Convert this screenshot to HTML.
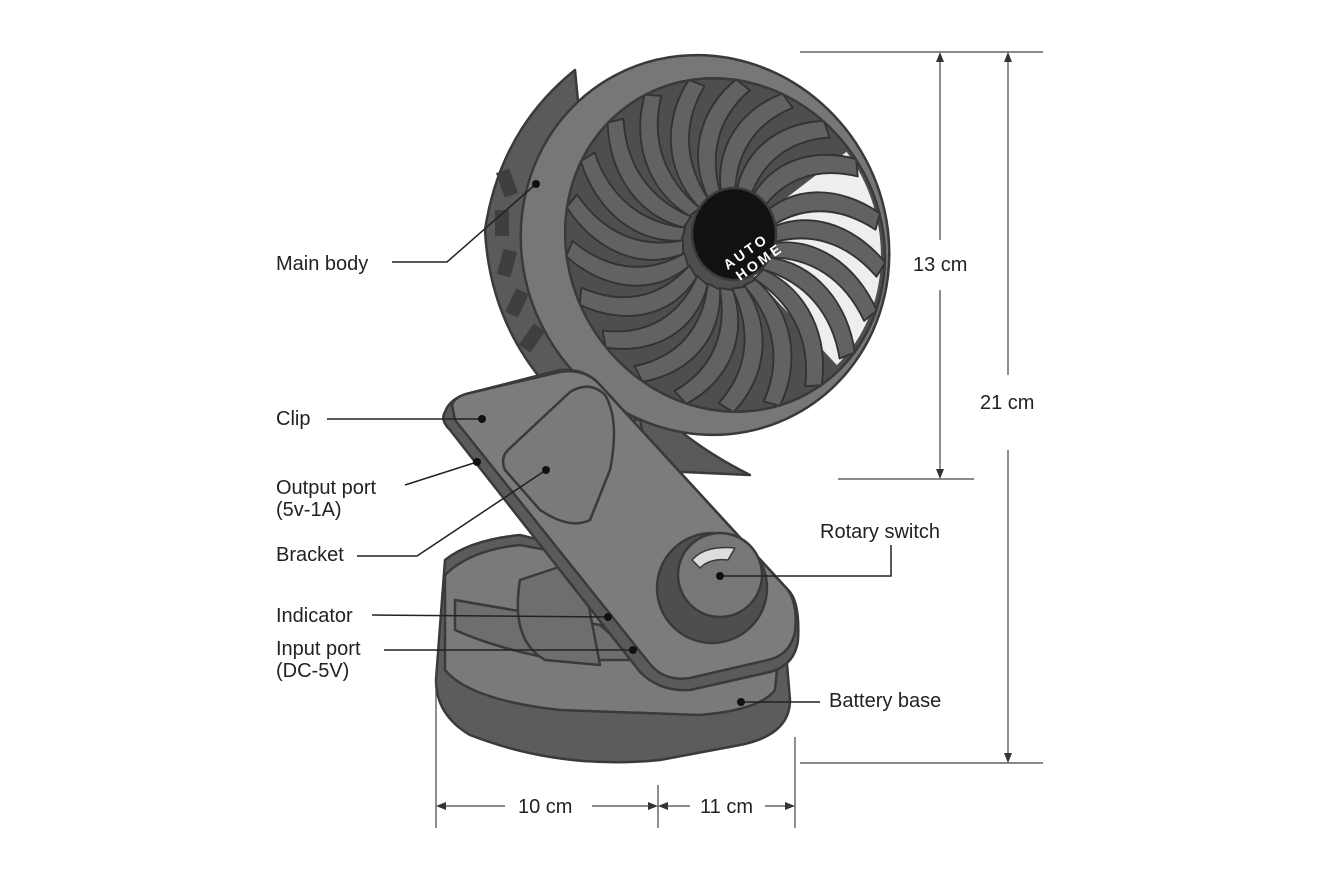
<!DOCTYPE html>
<html><head><meta charset="utf-8"><style>
html,body{margin:0;padding:0;background:#fff;}
svg{display:block;}
text{font-family:"Liberation Sans",Arial,sans-serif;font-size:20px;fill:#222;}
</style></head><body>
<svg width="1320" height="880" viewBox="0 0 1320 880" xmlns="http://www.w3.org/2000/svg">
<defs>
<path id="bl" d="M46,-6 C95,-20 140,5 163,50 L150,62 C128,22 92,2 44,8 Z" fill="#626262" stroke="#333" stroke-width="2"/>
</defs>
<g stroke="#3a3a3a" stroke-width="2.5" stroke-linejoin="round">
<!-- base -->
<path d="M445,560 Q470,540 520,535 L600,555 Q720,590 785,640 L790,700 Q790,735 740,745 L660,760 Q560,770 470,735 Q436,715 436,680 Z" fill="#5c5c5c"/>
<path d="M445,575 Q470,550 520,545 L600,560 Q720,595 780,640 L775,690 Q760,710 700,715 L560,710 Q470,700 445,670 Z" fill="#7a7a7a"/>
<path d="M455,600 L600,625 L640,660 L560,660 Q500,650 455,630 Z" fill="#6e6e6e"/>
<path d="M520,580 Q510,640 545,660 L600,665 L580,560 Z" fill="#6e6e6e"/>
<!-- back housing of fan -->
<path d="M575,70 Q500,130 485,230 Q490,330 560,400 L640,470 L750,475 Q640,420 600,330 Z" fill="#5a5a5a"/>
<g fill="#3f3f3f" stroke="none">
<rect x="500" y="170" width="14" height="26" transform="rotate(-20 507 183)"/>
<rect x="495" y="210" width="14" height="26"/>
<rect x="500" y="250" width="14" height="26" transform="rotate(15 507 263)"/>
<rect x="510" y="290" width="14" height="26" transform="rotate(25 517 303)"/>
<rect x="525" y="325" width="14" height="26" transform="rotate(35 532 338)"/>
</g>
<!-- stem -->
<path d="M560,420 L640,420 L650,470 L600,520 L560,500 Z" fill="#6e6e6e"/>
<!-- rim -->
<ellipse cx="705" cy="245" rx="182" ry="192" transform="rotate(-28 705 245)" fill="#777"/>
<g transform="translate(725,245) rotate(-30) scale(0.92,1)">
<circle r="170" fill="#4e4e4e"/>
<path d="M0,0 L165,-20 A165,165 0 0 1 40,160 Z" fill="#eee" stroke="none"/>
<use href="#bl" transform="rotate(0)"/><use href="#bl" transform="rotate(17)"/><use href="#bl" transform="rotate(34)"/><use href="#bl" transform="rotate(51)"/><use href="#bl" transform="rotate(68)"/><use href="#bl" transform="rotate(85)"/><use href="#bl" transform="rotate(102)"/><use href="#bl" transform="rotate(119)"/><use href="#bl" transform="rotate(136)"/><use href="#bl" transform="rotate(153)"/><use href="#bl" transform="rotate(170)"/><use href="#bl" transform="rotate(187)"/><use href="#bl" transform="rotate(204)"/><use href="#bl" transform="rotate(221)"/><use href="#bl" transform="rotate(238)"/><use href="#bl" transform="rotate(255)"/><use href="#bl" transform="rotate(272)"/><use href="#bl" transform="rotate(289)"/><use href="#bl" transform="rotate(306)"/><use href="#bl" transform="rotate(323)"/><use href="#bl" transform="rotate(340)"/>
<circle r="170" fill="none"/>
</g>
<ellipse cx="734" cy="234" rx="42" ry="46" fill="#111"/>
<!-- clip plate -->
<path d="M445,412 Q450,398 470,393 L560,370 Q585,368 600,385 L790,592 Q800,605 798,640 Q795,665 770,672 L690,690 Q660,692 640,672 L450,430 Q440,420 445,412 Z" fill="#5a5a5a"/>
<path d="M452,405 Q455,396 470,393 L560,372 Q585,368 600,385 L788,590 Q798,605 795,632 Q790,655 768,660 L690,678 Q665,682 650,664 L455,420 Z" fill="#7c7c7c"/>
<!-- bracket -->
<path d="M508,450 L570,392 Q590,380 605,395 Q620,420 610,470 L590,520 Q570,530 540,510 L505,470 Q500,458 508,450 Z" fill="#7a7a7a"/>
<!-- knob -->
<circle cx="712" cy="588" r="55" fill="#4e4e4e"/>
<circle cx="720" cy="575" r="42" fill="#777"/>
<path d="M692,560 Q705,545 735,548 L728,560 Q710,558 700,568 Z" fill="#ddd" stroke-width="1.5"/>
</g>
<text x="708" y="260" transform="rotate(-35 734 234)" style="fill:#fff;font-weight:bold;letter-spacing:3px;font-size:14px">AUTO</text>
<text x="712" y="276" transform="rotate(-35 734 234)" style="fill:#fff;font-weight:bold;letter-spacing:3px;font-size:14px">HOME</text>
<!-- leader lines -->
<g stroke="#222" stroke-width="1.5" fill="none">
<polyline points="392,262 447,262 536,184"/>
<polyline points="327,419 482,419"/>
<polyline points="405,485 477,462"/>
<polyline points="357,556 417,556 546,470"/>
<polyline points="372,615 608,617"/>
<polyline points="384,650 633,650"/>
<polyline points="720,576 891,576 891,545"/>
<polyline points="741,702 820,702"/>
</g>
<g fill="#111">
<circle cx="536" cy="184" r="4"/><circle cx="482" cy="419" r="4"/><circle cx="477" cy="462" r="4"/><circle cx="546" cy="470" r="4"/><circle cx="608" cy="617" r="4"/><circle cx="633" cy="650" r="4"/><circle cx="720" cy="576" r="4"/><circle cx="741" cy="702" r="4"/>
</g>
<text x="276" y="270">Main body</text>
<text x="276" y="425">Clip</text>
<text x="276" y="494">Output port</text>
<text x="276" y="516">(5v-1A)</text>
<text x="276" y="561">Bracket</text>
<text x="276" y="622">Indicator</text>
<text x="276" y="655">Input port</text>
<text x="276" y="677">(DC-5V)</text>
<text x="820" y="538">Rotary switch</text>
<text x="829" y="707">Battery base</text>
<!-- dimensions -->
<g stroke="#444" stroke-width="1.2" fill="none">
<line x1="800" y1="52" x2="1043" y2="52"/>
<line x1="838" y1="479" x2="974" y2="479"/>
<line x1="800" y1="763" x2="1043" y2="763"/>
<line x1="940" y1="56" x2="940" y2="240"/><line x1="940" y1="290" x2="940" y2="475"/>
<line x1="1008" y1="56" x2="1008" y2="375"/><line x1="1008" y1="450" x2="1008" y2="759"/>
<line x1="436" y1="670" x2="436" y2="828"/>
<line x1="658" y1="785" x2="658" y2="828"/>
<line x1="795" y1="737" x2="795" y2="828"/>
<line x1="440" y1="806" x2="505" y2="806"/><line x1="592" y1="806" x2="654" y2="806"/>
<line x1="662" y1="806" x2="690" y2="806"/><line x1="765" y1="806" x2="791" y2="806"/>
</g>
<g fill="#333">
<path d="M940,52 l-4,10 h8z"/><path d="M940,479 l-4,-10 h8z"/>
<path d="M1008,52 l-4,10 h8z"/><path d="M1008,763 l-4,-10 h8z"/>
<path d="M436,806 l10,-4 v8z"/><path d="M658,806 l-10,-4 v8z"/>
<path d="M658,806 l10,-4 v8z"/><path d="M795,806 l-10,-4 v8z"/>
</g>
<text x="913" y="271">13 cm</text>
<text x="980" y="409">21 cm</text>
<text x="518" y="813">10 cm</text>
<text x="700" y="813">11 cm</text>
</svg>
</body></html>
